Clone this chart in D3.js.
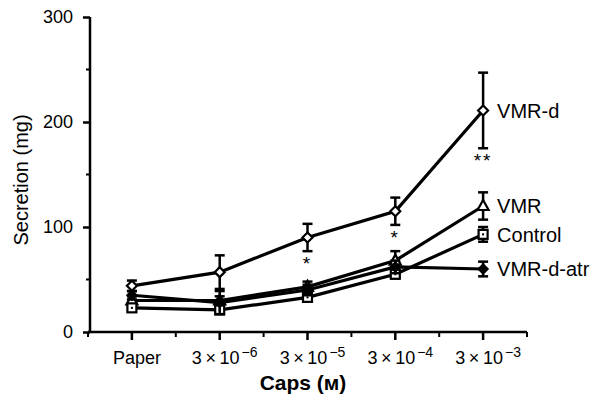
<!DOCTYPE html>
<html>
<head>
<meta charset="utf-8">
<script src="https://cdn.jsdelivr.net/npm/d3@7"></script>
<style>
  body { margin: 0; background: #fff; }
  text { font-family: "Liberation Sans", Arial, Helvetica, sans-serif; fill: #000; }
</style>
</head>
<body>
<div id="chart"></div>
<script>
// concentrations (first one is the paper control)
var categories = ["Paper", "3e-6", "3e-5", "3e-4", "3e-3"];
var exponents = [null, "6", "5", "4", "3"];

var vmrd = [44, 57, 90, 115, 211];
var vmrdErr = [5, 16, 13, 13, 36];
var vmr = [30, 30, 43, 68, 120];
var vmrErr = [4, 4, 5, 9, 13];
var control = [23, 21, 33, 55, 93];
var controlErr = [3, 3, 4, 4, 7];
var vmrdAtr = [35, 28, 40, 62, 60];
var vmrdAtrErr = [4, 11, 5, 6, 7];

var stars = ["", "", "*", "*", "**"];

var yTicks = [0, 100, 200, 300];
var yMinor = [50, 150, 250];

var series = [
	{ name: "VMR-d", values: vmrd, err: vmrdErr, marker: "openDiamond" },
	{ name: "VMR", values: vmr, err: vmrErr, marker: "triangle" },
	{ name: "Control", values: control, err: controlErr, marker: "square" },
	{ name: "VMR-d-atr", values: vmrdAtr, err: vmrdAtrErr, marker: "filledDiamond" }
];

var width = 601, height = 394;

var svg = d3.select("#chart").append("svg")
	.attr("width", width)
	.attr("height", height);

var x = d3.scalePoint()
	.domain(categories)
	.range([88, 527])
	.padding(0.5);

var y = d3.scaleLinear()
	.domain([0, 300])
	.range([332, 17]);

// y axis
var yAxis = svg.append("g").attr("transform", "translate(90,0)")
	.call(d3.axisLeft(y).tickValues(yTicks).tickSize(7).tickPadding(10));
yAxis.select(".domain").remove();
yAxis.selectAll(".tick line").attr("stroke-width", 2.5);
yAxis.selectAll(".tick text")
	.attr("font-size", 18)
	.style("font-family", "'Liberation Sans', Arial, sans-serif");
yAxis.append("line")
	.attr("x1", 0).attr("x2", 0)
	.attr("y1", y(0) + 1).attr("y2", y(300))
	.attr("stroke", "#000").attr("stroke-width", 2.5);
yAxis.selectAll(".minor")
	.data(yMinor)
	.enter().append("line")
	.attr("x1", -4).attr("x2", 0)
	.attr("y1", function(d) { return y(d); })
	.attr("y2", function(d) { return y(d); })
	.attr("stroke", "#000").attr("stroke-width", 2);

// x axis
var step = x.step();
svg.append("line")
	.attr("x1", x(categories[0]) - step / 2).attr("x2", x(categories[4]) + step / 2)
	.attr("y1", y(0)).attr("y2", y(0))
	.attr("stroke", "#000").attr("stroke-width", 2.5);

svg.selectAll(".xtick")
	.data(categories)
	.enter().append("line")
	.attr("x1", function(d) { return x(d); })
	.attr("x2", function(d) { return x(d); })
	.attr("y1", y(0)).attr("y2", y(0) + 8)
	.attr("stroke", "#000").attr("stroke-width", 2.5);

svg.selectAll(".xminor")
	.data(d3.range(categories.length + 1))
	.enter().append("line")
	.attr("x1", function(i) { return x(categories[0]) + (i - 0.5) * step; })
	.attr("x2", function(i) { return x(categories[0]) + (i - 0.5) * step; })
	.attr("y1", y(0)).attr("y2", y(0) + 5)
	.attr("stroke", "#000").attr("stroke-width", 2);

var xl = svg.selectAll(".xlabel")
	.data(categories)
	.enter().append("text")
	.attr("x", function(d) { return x(d) + 5; })
	.attr("y", 364)
	.attr("text-anchor", "middle")
	.attr("font-size", 18);

xl.each(function(d, i) {
	var t = d3.select(this);
	if (exponents[i] === null) {
		t.text(d);
	} else {
		t.append("tspan").text("3\u2009\u00d7\u200910");
		t.append("tspan")
			.attr("font-size", 14)
			.attr("dx", 2)
			.attr("dy", -7)
			.text("\u2212" + exponents[i]);
	}
});

svg.append("text")
	.attr("x", 303).attr("y", 390)
	.attr("text-anchor", "middle")
	.attr("font-size", 21)
	.attr("font-weight", "bold")
	.text("Caps (\u043c)");

svg.append("text")
	.attr("transform", "translate(28," + 180 + ") rotate(-90)")
	.attr("text-anchor", "middle")
	.attr("font-size", 20)
	.text("Secretion (mg)");

// lines
var line = d3.line()
	.x(function(d, i) { return x(categories[i]); })
	.y(function(d) { return y(d); });

var groups = svg.selectAll(".series")
	.data(series)
	.enter().append("g")
	.attr("class", "series");

groups.append("path")
	.attr("d", function(s) { return line(s.values); })
	.attr("fill", "none")
	.attr("stroke", "#000")
	.attr("stroke-width", 3.2);

// error bars
groups.each(function(s) {
	var g = d3.select(this);
	var pts = s.values.map(function(v, i) { return { i: i, v: v, e: s.err[i] }; });
	var eb = g.selectAll(".eb").data(pts).enter().append("g");
	eb.append("line")
		.attr("x1", function(d) { return x(categories[d.i]); })
		.attr("x2", function(d) { return x(categories[d.i]); })
		.attr("y1", function(d) { return y(d.v + d.e); })
		.attr("y2", function(d) { return y(d.v - d.e); })
		.attr("stroke", "#000").attr("stroke-width", 2.5);
	[1, -1].forEach(function(sign) {
		eb.append("line")
			.attr("x1", function(d) { return x(categories[d.i]) - 5; })
			.attr("x2", function(d) { return x(categories[d.i]) + 5; })
			.attr("y1", function(d) { return y(d.v + sign * d.e); })
			.attr("y2", function(d) { return y(d.v + sign * d.e); })
			.attr("stroke", "#000").attr("stroke-width", 2.5);
	});
});

// markers
function drawMarker(g, type, cx, cy) {
	if (type === "openDiamond") {
		g.append("path")
			.attr("d", "M" + cx + "," + (cy - 5) + "L" + (cx + 5) + "," + cy + "L" + cx + "," + (cy + 5) + "L" + (cx - 5) + "," + cy + "Z")
			.attr("fill", "#fff").attr("stroke", "#000").attr("stroke-width", 2.2);
	} else if (type === "filledDiamond") {
		g.append("path")
			.attr("d", "M" + cx + "," + (cy - 6) + "L" + (cx + 6) + "," + cy + "L" + cx + "," + (cy + 6) + "L" + (cx - 6) + "," + cy + "Z")
			.attr("fill", "#000");
	} else if (type === "triangle") {
		g.append("path")
			.attr("d", "M" + cx + "," + (cy - 6) + "L" + (cx + 5.5) + "," + (cy + 4) + "L" + (cx - 5.5) + "," + (cy + 4) + "Z")
			.attr("fill", "#fff").attr("stroke", "#000").attr("stroke-width", 2.2);
	} else if (type === "square") {
		g.append("rect")
			.attr("x", cx - 4.5).attr("y", cy - 4.5)
			.attr("width", 9).attr("height", 9)
			.attr("fill", "#fff").attr("stroke", "#000").attr("stroke-width", 2.2);
		g.append("rect")
			.attr("x", cx - 1).attr("y", cy - 1)
			.attr("width", 2).attr("height", 2)
			.attr("fill", "#000");
	}
}

groups.each(function(s) {
	var g = d3.select(this);
	s.values.forEach(function(v, i) {
		drawMarker(g, s.marker, x(categories[i]), y(v));
	});
});

// series labels at the right end
groups.append("text")
	.attr("x", x(categories[4]) + 14)
	.attr("y", function(s) { return y(s.values[4]); })
	.attr("dy", "0.36em")
	.attr("font-size", 20)
	.text(function(s) { return s.name; });

// significance marks under VMR-d
svg.selectAll(".star")
	.data(stars)
	.enter().append("text")
	.attr("x", function(d, i) { return x(categories[i]); })
	.attr("y", function(d, i) { return y(vmrd[i] - vmrdErr[i]) + 19; })
	.attr("text-anchor", "middle")
	.attr("font-size", 19)
	.attr("letter-spacing", 2)
	.text(function(d) { return d; });
</script>
</body>
</html>
